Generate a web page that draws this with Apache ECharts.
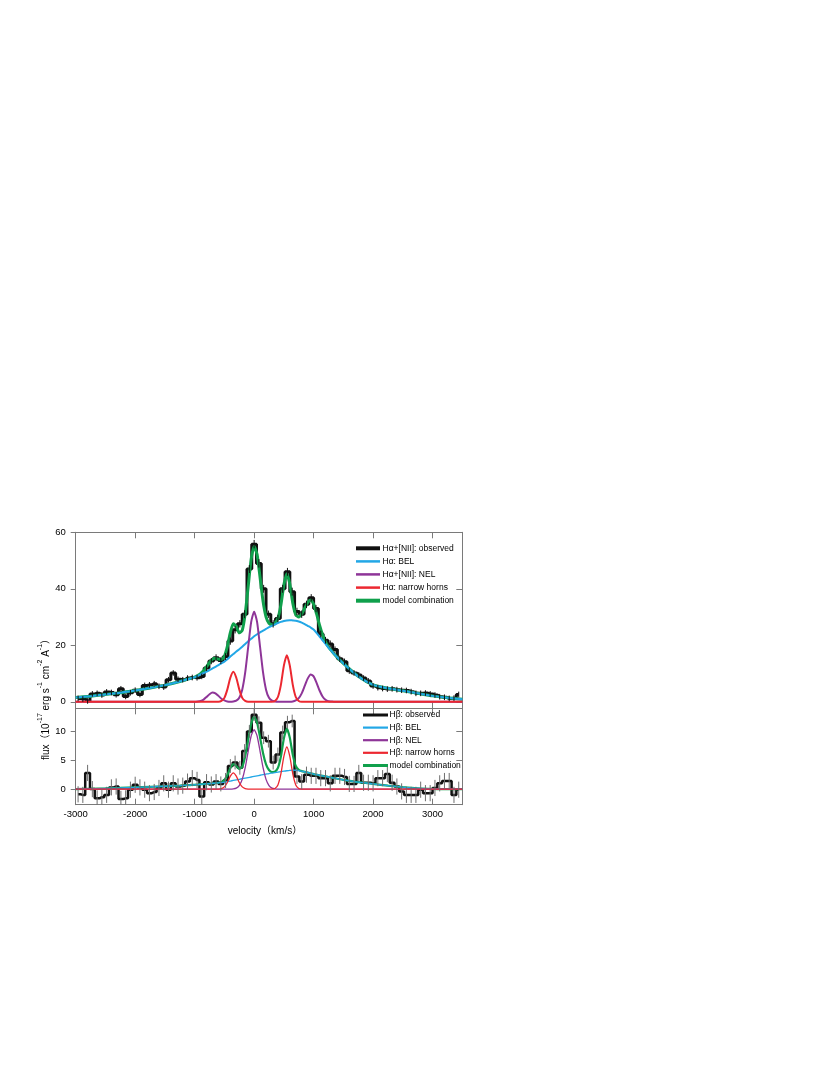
<!DOCTYPE html>
<html>
<head>
<meta charset="utf-8">
<script src="https://cdn.jsdelivr.net/npm/echarts@6/dist/echarts.min.js"></script>
<style>
html,body{margin:0;padding:0;background:#fff;}
#chart{width:830px;height:1075px;}
</style>
</head>
<body>
<div id="chart"></div>
<script>
// ---------- data ----------
const xTickLabels = [-3000, -2000, -1000, 0, 1000, 2000, 3000];
const topYTicks = [0, 20, 40, 60];
const botYTicks = [0, 5, 10];

// velocity grid of the model curves (km/s)
const modelVel = [-3000,-2750,-2500,-2250,-2000,-1750,-1500,-1250,
  -1100,-1050,-1000,-950,-900,-850,-800,-750,-700,-650,-600,-550,-500,-450,-400,-350,-300,-250,-200,-150,-100,-50,
  0,50,100,150,200,250,300,350,400,450,500,550,600,650,700,750,800,850,900,950,1000,1050,1100,1150,1200,1250,1300,1350,1400,
  1500,1750,2000,2250,2500,2750,3000,3250,3500];

// H-alpha panel
const haBEL = [1.5,2.0,2.6,3.2,4.0,4.9,5.9,7.2,
  8.1,8.4,8.7,9.2,9.7,10.2,10.7,11.2,11.8,12.4,13.0,13.6,14.2,15.1,16.0,16.9,17.8,18.6,19.5,20.5,21.4,22.3,
  23.2,23.9,24.6,25.2,25.8,26.4,26.9,27.4,27.9,28.3,28.6,28.8,28.9,28.8,28.7,28.4,28.0,27.5,26.9,26.3,25.6,24.4,23.1,21.8,20.5,19.2,18.0,16.8,15.7,
  13.6,9.0,6.0,4.8,3.9,3.0,2.1,1.4,0.9];
const haNEL = [0,0,0,0,0,0,0,0,
  0,0,0.0,0.1,0.3,0.8,1.7,2.7,3.3,3.0,2.1,1.1,0.5,0.1,0.0,0.1,0.4,1.4,4.3,10.4,19.4,28.2,
  31.9,28.2,19.4,10.4,4.3,1.4,0.4,0.1,0,0,0,0,0.0,0.1,0.5,1.3,3.0,5.6,8.2,9.7,9.0,6.7,4.0,1.9,0.7,0.2,0.1,0,0,
  0,0,0,0,0,0,0,0,0];
const haHorns = [0,0,0,0,0,0,0,0,
  0,0,0,0,0,0,0,0,0,0,0.0,0.3,1.4,4.4,8.5,10.6,8.5,4.4,1.4,0.3,0.0,0,
  0,0,0,0,0,0,0.0,0.3,1.7,6.0,12.8,16.5,12.8,6.0,1.7,0.3,0.0,0,0,0,0,0,0,0,0,0,0,0,0,
  0,0,0,0,0,0,0,0,0];
const haModel = [1.5,2.0,2.6,3.2,4.0,4.9,5.9,7.2,
  8.1,8.4,8.7,9.3,10.0,11.0,12.4,13.9,15.1,15.4,15.1,15.0,16.1,19.6,24.5,27.6,26.7,24.4,25.3,31.2,40.8,50.5,
  55.1,52.1,44.0,35.6,30.1,27.8,27.3,27.8,29.6,34.3,41.4,45.3,41.7,34.9,30.8,30.0,31.1,33.1,35.1,36.0,34.6,31.1,27.1,23.7,21.2,19.4,18.1,16.8,15.7,
  13.6,9.0,6.0,4.8,3.9,3.0,2.1,1.4,0.9];

// H-beta panel
const hbBEL = [0.0,0.05,0.12,0.2,0.3,0.4,0.5,0.6,
  0.69,0.72,0.75,0.79,0.83,0.87,0.91,0.95,0.99,1.04,1.09,1.14,1.2,1.3,1.4,1.5,1.6,1.7,1.8,1.9,2.0,2.1,
  2.2,2.3,2.4,2.5,2.6,2.7,2.78,2.86,2.94,3.02,3.1,3.18,3.25,3.3,3.27,3.2,3.1,3.0,2.88,2.75,2.6,2.5,2.4,2.3,2.2,2.1,2.0,1.9,1.8,
  1.6,1.2,0.9,0.6,0.35,0.15,0.05,0.0,0.0];
const hbNEL = [0,0,0,0,0,0,0,0,
  0,0,0,0,0,0,0,0,0,0,0,0,0,0,0,0.04,0.17,0.61,1.68,3.71,6.55,9.2,
  10.3,9.2,6.55,3.71,1.68,0.61,0.17,0.04,0,0,0,0,0,0,0,0,0,0,0,0,0,0,0,0,0,0,0,0,0,
  0,0,0,0,0,0,0,0,0];
const hbHorns = [0,0,0,0,0,0,0,0,
  0,0,0,0,0,0,0,0,0,0,0.01,0.08,0.38,1.15,2.24,2.8,2.24,1.15,0.38,0.08,0.01,0,
  0,0,0,0,0,0,0.01,0.12,0.73,2.63,5.66,7.3,5.66,2.63,0.73,0.12,0.01,0,0,0,0,0,0,0,0,0,0,0,0,
  0,0,0,0,0,0,0,0,0];
const hbModel = [0.0,0.05,0.12,0.2,0.3,0.4,0.5,0.6,
  0.69,0.72,0.75,0.79,0.83,0.87,0.91,0.95,0.99,1.04,1.1,1.22,1.58,2.45,3.64,4.34,4.01,3.46,3.86,5.69,8.56,11.3,
  12.5,11.5,8.95,6.21,4.28,3.31,2.96,3.02,3.67,5.65,8.76,10.48,8.91,5.93,4.0,3.32,3.11,3.0,2.88,2.75,2.6,2.5,2.4,2.3,2.2,2.1,2.0,1.9,1.8,
  1.6,1.2,0.9,0.6,0.35,0.15,0.05,0.0,0.0];

// observed spectra: bin centres (km/s)
const obsVel = [-2960,-2880,-2800,-2720,-2640,-2560,-2480,-2400,-2320,-2240,
  -2160,-2080,-2000,-1920,-1840,-1760,-1680,-1600,-1520,-1440,
  -1360,-1280,-1200,-1120,-1040,-960,-880,-800,-720,-640,
  -560,-480,-400,-320,-240,-160,-80,0,80,160,
  240,320,400,480,560,640,720,800,880,960,
  1040,1120,1200,1280,1360,1440,1520,1600,1680,1760,
  1840,1920,2000,2080,2160,2240,2320,2400,2480,2560,
  2640,2720,2800,2880,2960,3040,3120,3200,3280,3360,
  3440];
const haObs = [1.2,1.0,0.3,2.8,3.0,2.4,3.5,3.3,2.5,4.6,
  1.9,3.2,4.1,2.6,5.8,6.0,6.4,5.5,5.2,7.8,
  10.2,8.0,7.8,8.4,8.6,8.5,9.0,12.0,14.4,15.6,
  14.6,16.0,21.5,25.5,27.6,31.0,47.0,55.8,49.0,40.0,
  31.0,27.6,29.5,40.0,46.0,39.0,32.0,31.0,34.5,36.8,
  33.0,24.0,21.8,20.5,18.5,15.2,14.2,11.0,10.2,9.5,
  8.4,7.4,5.6,5.0,4.7,4.5,4.6,4.3,4.1,4.0,
  3.6,3.0,3.0,3.1,2.8,2.4,1.8,1.6,1.2,1.3,
  2.6];
const haErr = [1.0,1.0,1.0,1.0,1.0,1.0,1.0,1.0,1.0,1.0,
  1.0,1.0,1.0,1.0,1.0,1.0,1.0,1.0,1.0,1.0,
  1.0,1.0,1.0,1.0,1.0,1.0,1.0,1.1,1.1,1.2,
  1.2,1.2,1.3,1.3,1.3,1.4,1.4,1.5,1.5,1.4,
  1.3,1.3,1.3,1.4,1.4,1.4,1.3,1.3,1.3,1.3,
  1.3,1.2,1.2,1.2,1.1,1.1,1.1,1.1,1.0,1.0,
  1.0,1.0,1.0,1.0,1.0,1.0,1.0,1.0,1.0,1.0,
  1.0,1.0,1.0,1.0,1.0,1.0,1.0,1.0,1.0,1.0,
  1.0];
const hbObs = [-0.9,-1.0,2.8,0.0,-1.6,-1.4,-1.0,0.3,0.45,-1.7,
  -1.6,-0.1,0.75,0.3,-0.1,-0.7,-0.5,0.2,1.0,-0.1,
  1.0,0.45,0.6,1.3,1.9,1.6,-1.3,1.2,0.8,1.3,
  0.9,1.5,4.0,4.6,3.7,6.6,10.0,12.9,11.5,8.9,
  8.3,4.6,6.0,9.8,11.6,11.8,2.2,1.3,2.5,2.3,
  2.3,1.9,1.9,1.0,2.3,2.3,2.1,0.9,0.9,2.8,
  1.1,1.1,1.0,1.9,1.9,2.6,1.1,0.45,-0.4,-1.0,
  -1.0,-1.0,-0.1,-0.7,-0.7,0.2,1.0,1.4,1.4,-1.0,
  -0.1];
const hbErr = [1.4,1.4,1.4,1.4,1.4,1.4,1.4,1.4,1.4,1.4,
  1.4,1.4,1.4,1.4,1.4,1.4,1.4,1.4,1.4,1.4,
  1.4,1.4,1.4,1.4,1.4,1.4,1.4,1.4,1.4,1.3,
  1.3,1.3,1.2,1.2,1.2,1.2,1.1,1.1,1.1,1.1,
  1.1,1.2,1.2,1.2,1.1,1.1,1.3,1.3,1.4,1.4,
  1.4,1.4,1.4,1.4,1.4,1.4,1.4,1.4,1.4,1.4,
  1.4,1.4,1.4,1.4,1.4,1.4,1.4,1.4,1.4,1.4,
  1.4,1.4,1.4,1.4,1.4,1.4,1.4,1.4,1.4,1.4,
  1.4];

const topLegend = ['H\u03b1+[NII]: observed','H\u03b1: BEL','H\u03b1+[NII]: NEL','H\u03b1: narrow horns','model combination'];
const botLegend = ['H\u03b2: observed','H\u03b2: BEL','H\u03b2: NEL','H\u03b2: narrow horns','model combination'];
const xName = 'velocity\uff08km/s\uff09';

// ---------- styles ----------
const FONT = '"Liberation Sans", Arial, Helvetica, sans-serif';
const GREY = '#7a7a7a';
const C_OBS = '#111111', C_BEL = '#22a7e6', C_NEL = '#8e3598', C_HORN = '#ec2830', C_MOD = '#10a04c';

const pairs = (xs, ys) => xs.map((x, i) => [x, ys[i]]);

function lineSeries(name, xi, yi, xs, ys, color, width, z, step) {
  return {
    name, type: 'line', xAxisIndex: xi, yAxisIndex: yi, data: pairs(xs, ys),
    showSymbol: false, symbol: 'none', step: step || false, smooth: step ? false : 0.2,
    lineStyle: { color, width }, itemStyle: { color }, z, animation: false, silent: true, clip: true
  };
}
function errSeries(xi, yi, xs, ys, es, color, width) {
  return {
    type: 'custom', xAxisIndex: xi, yAxisIndex: yi, z: 6, silent: true, animation: false, clip: true,
    data: xs.map((x, i) => [x, ys[i], es[i]]),
    encode: { x: 0, y: 1 },
    renderItem: function (params, api) {
      const x = api.value(0), y = api.value(1), e = api.value(2);
      const p1 = api.coord([x, y - e]), p2 = api.coord([x, y + e]);
      return { type: 'line', shape: { x1: p1[0], y1: p1[1], x2: p2[0], y2: p2[1] },
        style: { stroke: color, lineWidth: width } };
    }
  };
}
function xAx(gi, pos, showLabel) {
  return {
    gridIndex: gi, type: 'value', min: xTickLabels[0], max: 3500, interval: 1000, position: pos,
    axisLine: { show: true, onZero: false, lineStyle: { color: GREY, width: 1 } },
    axisTick: { show: true, inside: true, length: 6, lineStyle: { color: GREY } },
    axisLabel: { show: showLabel, color: '#000', fontSize: 9.5, fontFamily: FONT, margin: 5,
      showMaxLabel: false, showMinLabel: true, formatter: v => String(v) },
    splitLine: { show: false }
  };
}
function yAx(gi, pos, min, max, ticks, showLabel) {
  return {
    gridIndex: gi, type: 'value', min, max, position: pos,
    axisLine: { show: true, onZero: false, lineStyle: { color: GREY, width: 1 } },
    axisTick: { show: true, inside: pos === 'right', length: pos === 'right' ? 6 : 5, customValues: ticks, lineStyle: { color: GREY } },
    axisLabel: { show: showLabel, customValues: ticks, color: '#000', fontSize: 9.5, fontFamily: FONT, margin: 10, formatter: v => String(v) },
    splitLine: { show: false }
  };
}

function legendGraphics(names, colors, widths, ys, x1, x2, tx) {
  const out = [];
  names.forEach((n, i) => {
    out.push({ type: 'line', silent: true, z: 100, shape: { x1, y1: ys[i], x2, y2: ys[i] }, style: { stroke: colors[i], lineWidth: widths[i] } });
    out.push({ type: 'text', silent: true, z: 100, x: tx, y: ys[i], style: { text: n, fill: '#000', fontSize: 8.5, fontFamily: FONT, align: 'left', verticalAlign: 'middle' } });
  });
  return out;
}

const legendColors = [C_OBS, C_BEL, C_NEL, C_HORN, C_MOD];

const option = {
  animation: false,
  backgroundColor: '#fff',
  grid: [
    { left: 75.7, top: 532.3, width: 386.6, height: 176 },
    { left: 75.7, top: 708.3, width: 386.6, height: 96.4 }
  ],
  xAxis: [ xAx(0, 'bottom', false), xAx(0, 'top', false), xAx(1, 'bottom', true), xAx(1, 'top', false) ],
  yAxis: [
    yAx(0, 'left', -2.3, 60, topYTicks, true), yAx(0, 'right', -2.3, 60, topYTicks, false),
    yAx(1, 'left', -2.7, 14, botYTicks, true), yAx(1, 'right', -2.7, 14, botYTicks, false)
  ],
  series: [
    lineSeries(topLegend[0], 0, 0, obsVel, haObs, C_OBS, 3, 2, 'middle'),
    errSeries(0, 0, obsVel, haObs, haErr, '#111', 1),
    lineSeries(topLegend[4], 0, 0, modelVel, haModel, C_MOD, 3, 3),
    lineSeries(topLegend[1], 0, 0, modelVel, haBEL, C_BEL, 2, 4),
    lineSeries(topLegend[2], 0, 0, modelVel, haNEL, C_NEL, 2, 4),
    lineSeries(topLegend[3], 0, 0, modelVel, haHorns, C_HORN, 2, 4),

    lineSeries(botLegend[0], 2, 2, obsVel, hbObs, C_OBS, 2.5, 2, 'middle'),
    errSeries(2, 2, obsVel, hbObs, hbErr, '#6e6e6e', 1),
    lineSeries(botLegend[4] + ' ', 2, 2, modelVel, hbModel, C_MOD, 2.2, 3),
    lineSeries(botLegend[1], 2, 2, modelVel, hbBEL, C_BEL, 1.3, 4),
    lineSeries(botLegend[2], 2, 2, modelVel, hbNEL, C_NEL, 1.3, 4),
    lineSeries(botLegend[3], 2, 2, modelVel, hbHorns, C_HORN, 1.3, 4)
  ],
  graphic: [].concat(
    legendGraphics(topLegend, legendColors, [4, 2.5, 2.5, 2.5, 4], [548.3, 561.4, 574.4, 587.6, 600.7], 356, 380, 382.5),
    legendGraphics(botLegend, legendColors, [3, 2.2, 2.2, 2.2, 3], [715, 727.6, 740.2, 752.8, 765.5], 363, 388, 389.5),
    [
      { type: 'text', silent: true, x: 265, y: 831, style: { text: xName, fill: '#000', fontSize: 10, fontFamily: FONT + ', "Noto Sans CJK SC"', align: 'center', verticalAlign: 'middle' } },
      { type: 'text', silent: true, x: 44, y: 697, rotation: Math.PI / 2,
        style: {
          text: '{a|flux\uff0810}{s|-17}{a| erg s}{s|-1}{a| cm}{s|-2}{a| A}{s|-1}{a|\uff09}',
          fill: '#000', align: 'center', verticalAlign: 'middle', fontFamily: FONT,
          rich: {
            a: { fontSize: 10, fontFamily: FONT + ', "Noto Sans CJK SC"', lineHeight: 15, verticalAlign: 'bottom', fill: '#000' },
            s: { fontSize: 7, fontFamily: FONT, lineHeight: 15, verticalAlign: 'top', fill: '#000', padding: [0, 0, 8, 0] }
          }
        }
      }
    ]
  )
};

const chart = echarts.init(document.getElementById('chart'), null, { renderer: 'canvas' });
chart.setOption(option);
</script>
</body>
</html>
